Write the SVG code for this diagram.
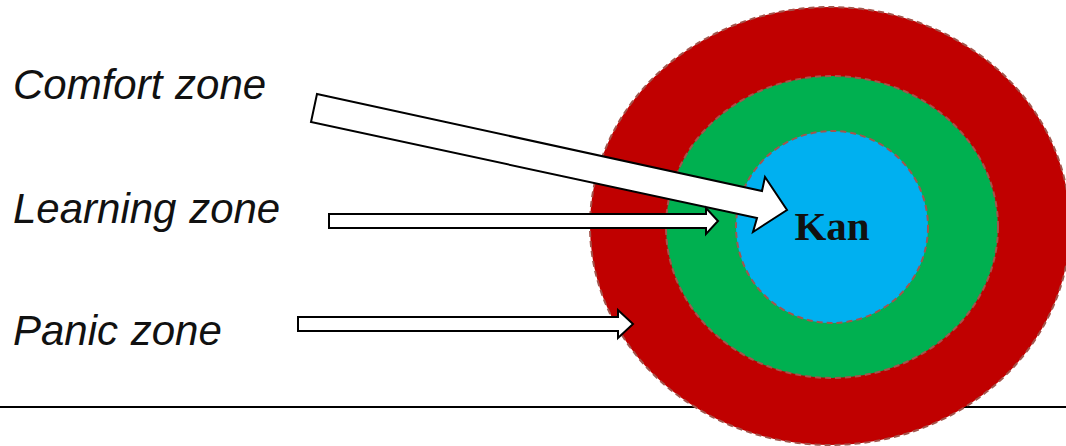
<svg xmlns="http://www.w3.org/2000/svg" width="1066" height="446" viewBox="0 0 1066 446">
<style>
.zone{stroke:#a4544c;stroke-width:2;stroke-dasharray:6 4}
.lbl{font-family:"Liberation Sans",Arial,sans-serif;font-style:italic;font-size:42px;fill:#111;word-spacing:1px}
.arr{fill:#fff;stroke:#000;stroke-width:2;stroke-linejoin:miter}
</style>
<rect width="1066" height="446" fill="#fff"/>
<line x1="0" y1="407" x2="1066" y2="407" stroke="#000" stroke-width="2"/>
<g id="panic-zone"><ellipse class="zone" cx="830" cy="226" rx="240" ry="219" fill="#c00000"/></g>
<g id="learning-zone"><ellipse class="zone" cx="832" cy="227" rx="166" ry="151" fill="#00b050"/></g>
<g id="comfort-zone"><circle class="zone" cx="832" cy="227" r="96" fill="#00b0f0"/>
<text x="832" y="240" text-anchor="middle" font-family="'Liberation Serif','Times New Roman',serif" font-weight="bold" font-size="41" fill="#111">Kan</text></g>
<g id="label-comfort"><text class="lbl" x="13" y="99">Comfort zone</text></g>
<g id="label-learning"><text class="lbl" x="13" y="223">Learning zone</text></g>
<g id="label-panic"><text class="lbl" x="13" y="345">Panic zone</text></g>
<g id="connectors">
<polygon class="arr" points="317,94 762,191 765,177 787,210 753,232 757,218 311,122"/>
<polygon class="arr" points="329,214 706,214 706,208 718,221 706,234 706,228 329,228"/>
<polygon class="arr" points="298,317 618,317 618,310 633,324 618,338 618,331 298,331"/>
</g>
</svg>
